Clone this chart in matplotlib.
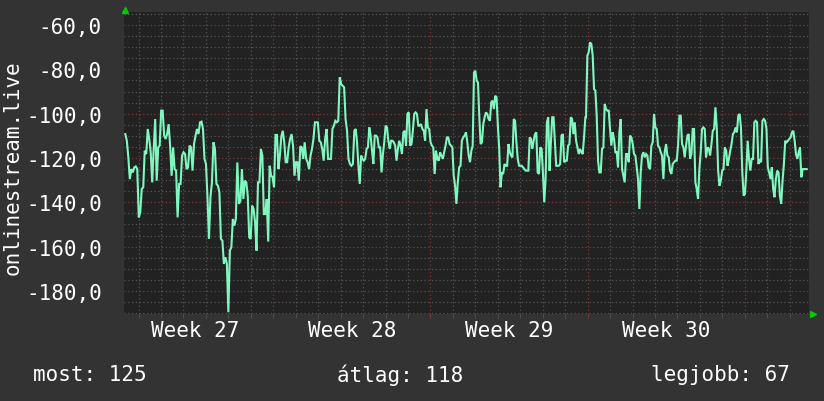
import numpy as np
import matplotlib
matplotlib.use("Agg")
import matplotlib.pyplot as plt
from matplotlib.ticker import MultipleLocator, FuncFormatter
import matplotlib.transforms as mtrans

# ---- data (days relative to the start of week 28; values in dBm) ----
seg_start = [-6.591, -1.528, 3.669, 8.762, 13.929, 19.096]
seg_end = [-1.602, 3.609, 8.702, 13.899, 19.037, 23.758]

vals1 = [-109.2, -112.2, -119.7, -129.5, -125.0, -126.5, -124.2, -123.8, -125.0, -146.8,
         -144.5, -134.0, -133.2, -116.7, -118.2, -106.9, -111.4, -117.4, -131.0, -115.9,
         -102.4, -130.2, -115.2, -114.4, -98.6, -98.6, -109.9, -111.4, -109.2, -104.7,
         -114.4, -128.0, -115.2, -125.0, -125.7, -146.8, -131.7, -131.7, -118.9, -117.4,
         -118.2, -125.0, -124.2, -114.4, -115.2, -125.7, -113.7, -109.9, -106.9, -109.2,
         -103.9, -103.6, -106.9, -120.4, -122.7, -137.7, -156.5, -137.7, -131.0, -112.9,
         -115.9, -131.7, -132.5, -135.5, -156.5, -157.3, -167.8, -164.8, -167.8, -189.6,
         -161.8, -160.3, -147.5, -150.5, -147.5, -122.0]
vals2 = [-140.7, -139.2, -125.0, -138.5, -130.2, -131.0, -137.0, -155.8, -156.5, -141.5,
         -143.0, -149.0, -161.8, -131.0, -131.0, -115.9, -118.9, -145.3, -145.3, -138.5,
         -157.7, -123.5, -128.0, -128.7, -133.2, -109.6, -109.6, -125.0, -118.9, -110.2,
         -107.7, -112.9, -121.9, -121.9, -115.2, -111.4, -109.2, -114.4, -128.0, -121.9,
         -121.9, -130.2, -114.7, -115.2, -120.4, -112.9, -120.4, -121.9, -125.0, -118.9,
         -115.9, -111.4, -103.9, -103.9, -103.9, -112.2, -112.9, -115.9, -121.2, -111.4,
         -106.9, -120.4, -120.4, -120.4, -106.9, -105.4, -103.2, -103.9, -103.2, -83.6,
         -86.6, -87.4, -88.1, -102.4, -107.7, -120.4, -122.7, -123.5, -122.7, -107.7]
vals3 = [-106.9, -112.9, -123.5, -131.7, -118.9, -120.4, -121.2, -120.4, -115.9, -115.2,
         -106.2, -109.9, -116.7, -122.7, -109.9, -109.9, -110.7, -115.2, -115.2, -126.5,
         -118.2, -112.9, -105.4, -106.2, -112.2, -115.9, -112.2, -112.2, -112.9, -114.4,
         -121.2, -115.9, -112.2, -114.4, -118.2, -108.4, -107.7, -114.4, -100.1, -99.4,
         -114.4, -113.7, -107.7, -100.1, -99.4, -100.1, -105.4, -105.4, -104.7, -106.9,
         -107.7, -112.2, -97.9, -106.2, -106.9, -112.9, -114.4, -115.2, -127.2, -116.7,
         -120.4, -121.2, -117.4, -118.9, -120.4, -117.4, -114.4, -110.7, -110.7, -113.7,
         -114.4, -115.2, -128.0, -132.5, -140.7, -131.0, -124.2, -123.5, -112.2, -110.7,
         -109.9, -108.4, -112.9, -118.9]
vals4 = [-121.9, -116.7, -114.4, -81.4, -80.6, -85.1, -85.9, -101.6, -113.7, -112.9,
         -104.7, -101.6, -99.4, -100.1, -102.4, -103.2, -94.9, -94.1, -97.9, -91.9,
         -92.6, -105.4, -115.9, -133.2, -126.5, -127.2, -122.7, -123.5, -123.5, -113.7,
         -117.4, -118.9, -119.7, -102.4, -103.2, -112.9, -120.4, -123.5, -123.5, -123.5,
         -124.2, -125.0, -125.7, -125.7, -125.7, -110.7, -111.4, -115.9, -112.2, -109.2,
         -108.4, -126.5, -127.2, -115.2, -115.9, -126.5, -140.0, -129.5, -103.9, -101.6,
         -125.7, -112.9, -101.6, -101.6, -112.9, -123.5, -123.5, -123.5, -122.7, -109.9,
         -109.2, -121.9, -121.2, -121.2, -114.4, -113.7, -101.6, -102.4, -109.2, -103.9,
         -112.2, -115.2, -118.2, -115.9, -117.4, -118.2, -110.7, -101.6]
vals5 = [-101.6, -73.8, -72.3, -67.8, -68.6, -73.8, -88.9, -89.6, -100.9, -121.2,
         -126.5, -126.5, -115.9, -115.2, -95.6, -97.9, -98.6, -98.6, -106.9, -114.4,
         -108.4, -111.4, -117.4, -117.4, -124.2, -108.4, -102.4, -125.0, -128.0, -131.0,
         -118.2, -118.2, -121.9, -109.9, -110.7, -113.7, -118.2, -118.9, -124.2, -129.5,
         -143.0, -126.5, -118.9, -117.4, -119.7, -118.2, -118.9, -124.2, -125.0, -114.4,
         -112.9, -100.1, -106.2, -106.9, -114.4, -115.2, -117.4, -118.9, -129.5, -117.4,
         -113.7, -118.9, -119.7, -125.7, -127.2, -122.7, -121.9, -121.2, -121.2, -114.4,
         -100.9, -100.9, -113.7, -115.2, -119.7, -114.4, -109.9, -109.2, -120.4, -118.2,
         -106.9, -106.9, -131.0, -134.0, -138.5, -125.0, -117.4]
vals6 = [-106.9, -106.2, -106.9, -119.7, -115.2, -115.9, -118.9, -113.7, -107.7, -106.9,
         -97.1, -106.9, -125.7, -132.5, -130.2, -125.7, -125.0, -115.2, -116.7, -123.5,
         -120.4, -116.7, -113.7, -109.2, -108.4, -106.2, -108.4, -100.9, -100.1, -106.2,
         -126.5, -137.0, -136.2, -125.7, -112.2, -120.4, -125.7, -120.4, -120.4, -103.9,
         -103.2, -103.9, -122.7, -121.2, -121.9, -103.2, -102.4, -103.2, -106.9, -124.2,
         -126.5, -129.5, -124.2, -134.0, -137.7, -129.5, -125.7, -126.5, -137.0, -140.7,
         -130.2, -122.7, -112.2, -112.9, -112.2, -111.4, -110.7, -108.4, -107.7, -112.2,
         -118.2, -120.4, -117.4, -115.2, -128.7, -125.0, -125.0, -125.0, -125.0]
segments = [vals1, vals2, vals3, vals4, vals5, vals6]

week_labels = ["Week 27", "Week 28", "Week 29", "Week 30"]
week_label_pos = [-3.5, 3.5, 10.5, 17.5]
legend_texts = ["most: 125", "átlag: 118", "legjobb: 67"]
y_label = "onlinestream.live"

# ---- build series ----
t = np.concatenate([np.linspace(s, e, len(v)) for s, e, v in zip(seg_start, seg_end, segments)])
y = np.concatenate([np.array(v) for v in segments])

FONT = "DejaVu Sans Mono"
FS = 15
BG = "#333333"
CANVAS = "#222222"
LINE = "#7ff7bf"
TXT = "#ffffff"

fig = plt.figure(figsize=(8.24, 4.02), dpi=100, facecolor=BG)
ax = fig.add_axes([124 / 824, 87 / 402, 685 / 824, 302 / 402])
ax.set_facecolor(CANVAS)

ax.set_xlim(-6.65, 23.86)
ax.set_ylim(-190.4, -54.1)

ax.xaxis.set_major_locator(MultipleLocator(7))
ax.xaxis.set_minor_locator(MultipleLocator(1))
ax.yaxis.set_major_locator(MultipleLocator(20))
ax.yaxis.set_minor_locator(MultipleLocator(5))

dots = (0, (1, 2))
ax.grid(which="minor", color="#555555", linestyle=dots, linewidth=0.9)
ax.grid(which="major", color="#803838", linestyle=dots, linewidth=0.9)
ax.set_axisbelow(True)

ax.plot(t, y, color=LINE, linewidth=1.5, solid_joinstyle="miter", zorder=3)

for sp in ax.spines.values():
    sp.set_visible(False)

ax.yaxis.set_major_formatter(FuncFormatter(lambda v, p: f"{v:.1f}".replace(".", ",")))
ax.tick_params(axis="y", which="both", length=0, pad=16, labelsize=FS, labelcolor=TXT)
for lab in ax.get_yticklabels():
    lab.set_fontfamily(FONT)
ax.tick_params(axis="x", which="major", length=3, color="#803838", labelbottom=False)
ax.tick_params(axis="x", which="minor", length=3, color="#555555")

trans = mtrans.blended_transform_factory(ax.transData, ax.transAxes)
for pos, lab in zip(week_label_pos, week_labels):
    ax.text(pos, -0.052, lab, transform=trans, ha="center", va="center",
            fontsize=FS, color=TXT, fontfamily=FONT)

# arrows at axis ends
ax.plot([0.0015], [1.008], marker="^", color="#00cc00", markersize=4.5,
        transform=ax.transAxes, clip_on=False, zorder=5)
ax.plot([1.006], [0.0], marker=">", color="#00cc00", markersize=4.5,
        transform=ax.transAxes, clip_on=False, zorder=5)

fig.text(13 / 824, 1 - 168 / 402, y_label, rotation=90, ha="center", va="center",
         fontsize=FS, color=TXT, fontfamily=FONT)

ly = 1 - 375 / 402
fig.text(33 / 824, ly, legend_texts[0], ha="left", va="center", fontsize=FS, color=TXT, fontfamily=FONT)
fig.text(400 / 824, ly, legend_texts[1], ha="center", va="center", fontsize=FS, color=TXT, fontfamily=FONT)
fig.text(790 / 824, ly, legend_texts[2], ha="right", va="center", fontsize=FS, color=TXT, fontfamily=FONT)

fig.savefig("out.png", dpi=100, facecolor=BG)
